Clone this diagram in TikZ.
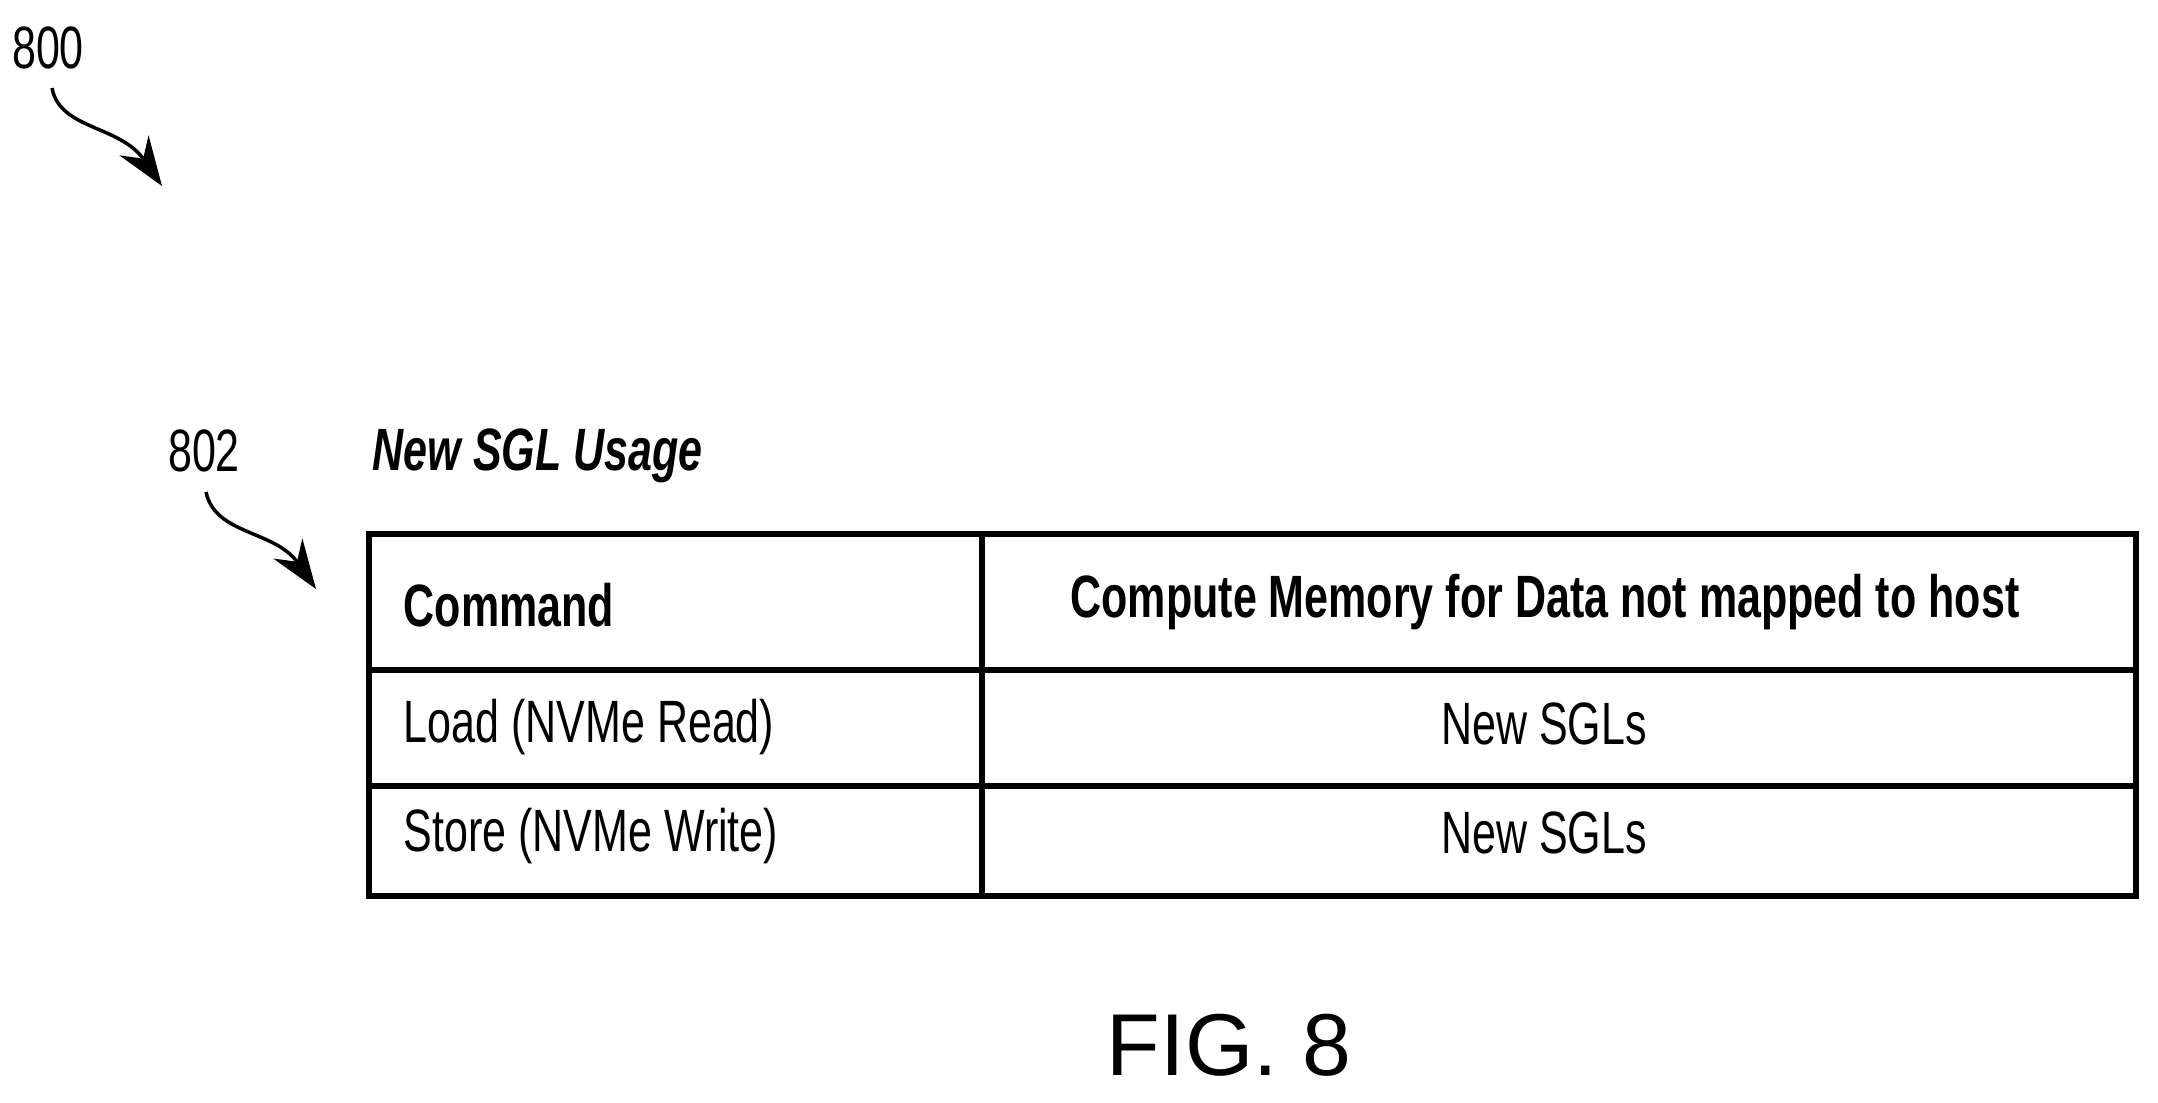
\documentclass[tikz,border=0pt]{standalone}
\usepackage{fontspec}
\setmainfont[FakeStretch=0.72]{Liberation Sans}
\newfontfamily\figfont{Liberation Sans}
\usetikzlibrary{arrows.meta}
\begin{document}
\begin{tikzpicture}[
  lbl/.style={font=\fontsize{17}{20}\selectfont, inner sep=0pt},
  cell/.style={font=\fontsize{17}{20}\selectfont, inner sep=0pt},
  ref/.style={font=\fontsize{17}{20}\selectfont, inner sep=0pt},
  grid/.style={line width=1.6pt},
  leader/.style={line width=1pt, -{Stealth[length=14pt,width=10pt]}}
]
\useasboundingbox (0,0) rectangle (21.58,-11.03);
\node[ref] (r800) at (0.48,-0.48) {800};
\node[ref] (r802) at (2.04,-4.51) {802};
\coordinate (a800) at (1.62,-1.86);
\coordinate (a802) at (3.16,-5.89);
\draw[leader] (0.52,-0.88) .. controls (0.6,-1.3) and (1.2,-1.25) .. (a800);
\draw[leader] (2.06,-4.92) .. controls (2.15,-5.35) and (2.75,-5.3) .. (a802);
\node[lbl, anchor=west, font=\fontsize{17}{20}\selectfont\bfseries\itshape] (title) at (3.72,-4.56) {New SGL Usage};
\draw[grid] (3.69,-5.34) rectangle (21.36,-8.96);
\draw[grid] (3.69,-6.70) -- (21.36,-6.70);
\draw[grid] (3.69,-7.86) -- (21.36,-7.86);
\draw[grid] (9.82,-5.34) -- (9.82,-8.96);
\node[cell, anchor=west, font=\fontsize{17}{20}\selectfont\bfseries] (c11) at (4.03,-6.05) {Command};
\node[cell, font=\fontsize{17}{20}\selectfont\bfseries] (c12) at (15.45,-6.02) {Compute Memory for Data not mapped to host};
\node[cell, anchor=west] (c21) at (4.03,-7.27) {Load (NVMe Read)};
\node[cell] (c22) at (15.44,-7.24) {New SGLs};
\node[cell, anchor=west] (c31) at (4.03,-8.36) {Store (NVMe Write)};
\node[cell] (c32) at (15.44,-8.33) {New SGLs};
\node[inner sep=0pt, font=\figfont\fontsize{25}{28}\selectfont] (fig) at (12.29,-10.45) {FIG. 8};
\end{tikzpicture}
\end{document}
